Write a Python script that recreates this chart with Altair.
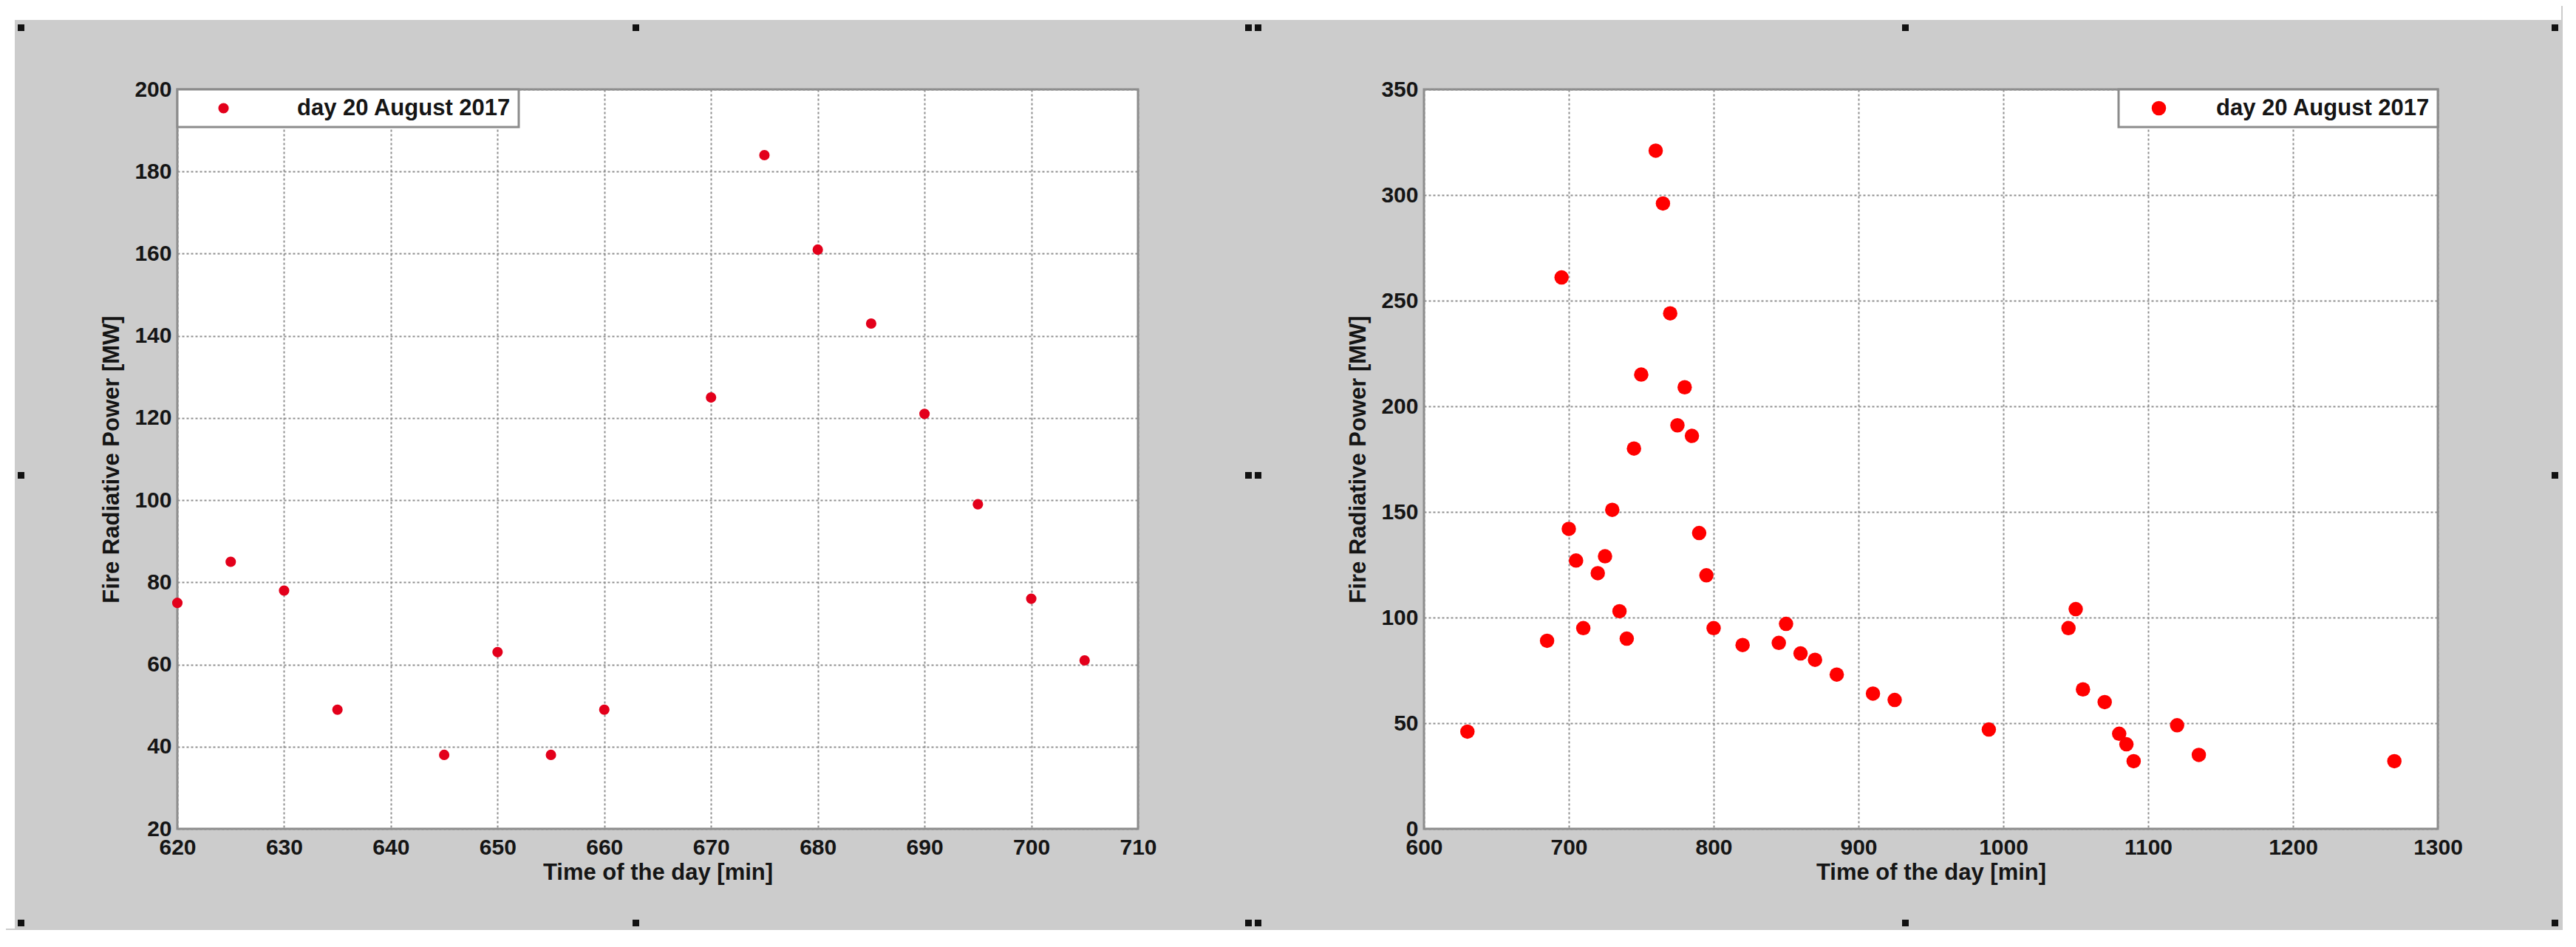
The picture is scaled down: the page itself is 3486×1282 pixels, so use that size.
import altair as alt
import pandas as pd

# ---- data ----
left_time = [620, 625, 630, 635, 645, 650, 655, 660, 670, 675, 680, 685, 690, 695, 700, 705]
left_frp = [75, 85, 78, 49, 38, 63, 38, 49, 125, 184, 161, 143, 121, 99, 76, 61]

right_time = [630, 685, 695, 700, 705, 710, 720, 725, 730, 735,
              740, 745, 750, 760, 765, 770, 775, 780, 785, 790,
              795, 800, 820, 845, 850, 860, 870, 885, 910, 925,
              990, 1045, 1050, 1055, 1070, 1080, 1085, 1090, 1120, 1135,
              1270]
right_frp = [46, 89, 261, 142, 127, 95, 121, 129, 151, 103,
             90, 180, 215, 321, 296, 244, 191, 209, 186, 140,
             120, 95, 87, 88, 97, 83, 80, 73, 64, 61,
             47, 95, 104, 66, 60, 45, 40, 32, 49, 35,
             32]

series_label = "day 20 August 2017"
x_title = "Time of the day [min]"
y_title = "Fire Radiative Power [MW]"

left_x_ticks = [620, 630, 640, 650, 660, 670, 680, 690, 700, 710]
left_y_ticks = [20, 40, 60, 80, 100, 120, 140, 160, 180, 200]
right_x_ticks = [600, 700, 800, 900, 1000, 1100, 1200, 1300]
right_y_ticks = [0, 50, 100, 150, 200, 250, 300, 350]

left_df = pd.DataFrame({"t": left_time, "frp": left_frp, "series": series_label})
right_df = pd.DataFrame({"t": right_time, "frp": right_frp, "series": series_label})
frame_df = pd.DataFrame({"k": [0]})

FONT = "Liberation Sans"
NBSP = "\u00a0"

# left panel plot origin on the page (used only for decoration placement)
OX, OY = 238, 119
EDGE = 3  # hidden overscan at top/left edge


def axis(title, values, label_pad, title_pad):
    return alt.Axis(
        title=title,
        values=values,
        format="d",
        grid=True,
        gridDash=[3, 3],
        gridColor="#8f8f8f",
        gridWidth=2,
        domain=False,
        ticks=False,
        labelFont=FONT,
        labelFontSize=30,
        labelFontWeight="bold",
        labelColor="#151515",
        labelPadding=label_pad,
        labelFlush=False,
        labelOverlap=False,
        titleFont=FONT,
        titleFontSize=31,
        titleFontWeight="bold",
        titleColor="#151515",
        titlePadding=title_pad,
    )


def panel(df, xdom, ydom, xt, yt, w, color, size, legend):
    return alt.Chart(df).mark_circle(size=size, opacity=1, color=color).encode(
        x=alt.X("t:Q", scale=alt.Scale(domain=xdom, nice=False, zero=False),
                axis=axis(x_title, xt, 10, 4)),
        y=alt.Y("frp:Q", scale=alt.Scale(domain=ydom, nice=False, zero=False),
                axis=axis(y_title, yt, 8, 14)),
        color=alt.Color("series:N", scale=alt.Scale(range=[color]), legend=legend),
    ).properties(width=w, height=1001)


def legend(orient, size, sym_off, lab_off, n_pad):
    return alt.Legend(
        title=None, orient=orient, offset=0, padding=10,
        fillColor="white", strokeColor="#8c8c8c",
        symbolType="circle", symbolSize=size, symbolStrokeWidth=0,
        symbolOffset=sym_off, labelOffset=lab_off, labelLimit=1000,
        labelFont=FONT, labelFontSize=31, labelFontWeight="bold", labelColor="#151515",
        labelExpr="datum.label + '" + NBSP * n_pad + "'",
    )


def page_rect(x1, y1, x2, y2, fill, opacity=1.0):
    # decoration rectangle given in page pixels
    return alt.Chart(frame_df).mark_rect(fill=fill, fillOpacity=opacity, strokeWidth=0).encode(
        x=alt.value(x1 - OX), x2=alt.value(x2 - OX),
        y=alt.value(y1 - OY), y2=alt.value(y2 - OY),
    )


deco = [
    page_rect(8 - EDGE, 8 - EDGE, 3464, 1255, "white", 0.0),   # sheet extent
    page_rect(8 - EDGE, 8 - EDGE, 3464, 25, "white"),          # white strip on top
    page_rect(8 - EDGE, 8 - EDGE, 18, 1255, "white"),          # white strip at left
]

# selection handles of the embedded picture (decoration)
handle_x_rows = {
    35: [26, 858, 1687, 1700, 2576, 3455],
    641: [26, 1687, 1700, 3455],
    1247: [26, 858, 1687, 1700, 2576, 3455],
}
for hy, hxs in handle_x_rows.items():
    for hx in hxs:
        deco.append(page_rect(hx - 4, hy - 4, hx + 5, hy + 5, "#111111"))

left_pts = panel(left_df, [620, 710], [20, 200], left_x_ticks, left_y_ticks, 1300,
                 "#e3001b", 200, legend("top-left", 200, 37, 84, 8))
right_pts = panel(right_df, [600, 1300], [0, 350], right_x_ticks, right_y_ticks, 1372,
                  "#ff0000", 380, legend("top-right", 380, 29, 62, 1))

left = alt.layer(*deco, left_pts)

chart = alt.hconcat(left, right_pts, spacing=387, bounds="flush").resolve_scale(
    color="independent"
).resolve_legend(color="independent").properties(
    background="#cccccc",
    padding={"left": -EDGE, "top": -EDGE, "right": 0, "bottom": 0},
).configure_view(
    fill="white", stroke="#8c8c8c", strokeWidth=3
).configure_legend(strokeWidth=3)

chart.save("out.html", embed_options={"renderer": "svg", "actions": False})
